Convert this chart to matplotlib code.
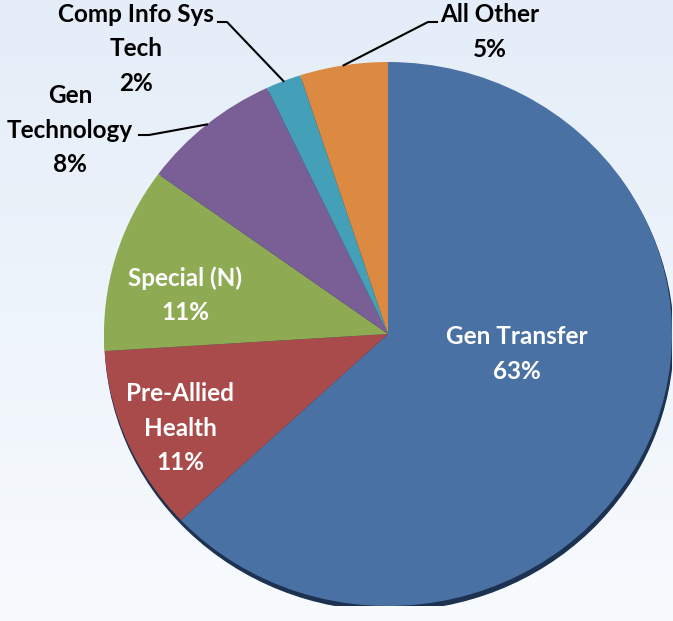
import numpy as np
import matplotlib.pyplot as plt
from matplotlib.colors import LinearSegmentedColormap
from matplotlib.patches import Ellipse

labels = ['Gen Transfer', 'Pre-Allied\nHealth', 'Special (N)', 'Gen\nTechnology',
          'Comp Info Sys\nTech', 'All Other']
shares = [63, 11, 11, 8, 2, 5]
colors = ['#4a71a4', '#a94b4a', '#8eaa52', '#7a5e96', '#44a0b8', '#dc8a41']

# label placement (pixels from top-left), inside labels white, outside black
lab_pos = [(517, 354), (180, 428), (185, 295), (70, 130), (136, 49), (490, 32)]
inside = [True, True, True, False, False, False]
# elbow of leader line for outside labels: (elbow x, y, text-side x)
elbows = {3: (149, 135, 139), 4: (227, 22, 218), 5: (428, 22, 437)}

W, H = 673, 621
cx, cy, RX, RY = 388, 334, 284, 272

fig = plt.figure(figsize=(W / 100, H / 100), dpi=100)
bg = fig.add_axes([0, 0, 1, 1])
bg.axis('off')
grad = np.linspace(0, 1, 256).reshape(-1, 1)
bg.imshow(grad, cmap=LinearSegmentedColormap.from_list('bg', ['#e4edf8', '#f8fbfe']),
          aspect='auto', extent=[0, 1, 0, 1], origin='upper')

# pie drawn in unit coords inside an axes sized to the ellipse
pax = fig.add_axes([(cx - RX) / W, (H - cy - RY) / H, 2 * RX / W, 2 * RY / H])
pax.patch.set_alpha(0)
pax.add_patch(Ellipse((0.004, -0.016), 2, 2, color='#1d3150', zorder=0))
wedges, _ = pax.pie(shares, colors=colors, startangle=90, counterclock=False,
                    radius=1, wedgeprops=dict(linewidth=0))
pax.set_xlim(-1, 1)
pax.set_ylim(-1, 1)
pax.set_aspect('auto')
pax.axis('off')

# overlay in pixel coords for labels and leader lines
ax = fig.add_axes([0, 0, 1, 1])
ax.patch.set_alpha(0)
ax.set_xlim(0, W)
ax.set_ylim(H, 0)
ax.axis('off')

font = dict(family='Lato', fontweight='bold', fontsize=17.5, ha='center', va='center',
            linespacing=1.61)
for i, (lab, v) in enumerate(zip(labels, shares)):
    x, y = lab_pos[i]
    txt = f'{lab}\n{v}%'
    if inside[i]:
        ax.text(x, y, txt, color='white', **font)
    else:
        ax.text(x, y, txt, color='black', **font)
        w = wedges[i]
        mid = np.deg2rad((w.theta1 + w.theta2) / 2)
        px, py = cx + RX * np.cos(mid), cy - RY * np.sin(mid)
        ex, ey, tx = elbows[i]
        ax.plot([px, ex, tx], [py, ey, ey], color='black', lw=1.5)

fig.savefig('out.png', dpi=100)
